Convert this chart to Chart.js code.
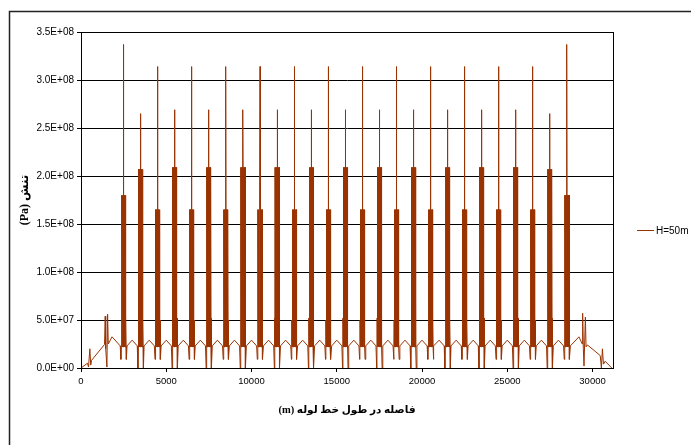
<!DOCTYPE html>
<html>
<head>
<meta charset="utf-8">
<script src="https://cdn.jsdelivr.net/npm/chart.js@4/dist/chart.umd.min.js"></script>
<style>
  html, body { margin: 0; padding: 0; background: #fff; }
  canvas { display: block; }
</style>
</head>
<body>
<canvas id="stressChart" width="691" height="445"></canvas>
<script>
// distances (m) of the 27 stress clusters along the pipe
const clusterPos = [2500, 3500, 4500, 5500, 6500, 7500, 8500, 9500, 10500, 11500, 12500, 13500, 14500,
  15500, 16500, 17500, 18500, 19500, 20500, 21500, 22500, 23500, 24500, 25500, 26500, 27500, 28500];
const clusterPeak = [3.37e8, 2.65e8, 3.14e8, 2.69e8, 3.14e8, 2.69e8, 3.14e8, 2.69e8, 3.14e8, 2.69e8, 3.14e8, 2.69e8, 3.14e8,
  2.69e8, 3.14e8, 2.69e8, 3.14e8, 2.69e8, 3.14e8, 2.69e8, 3.14e8, 2.69e8, 3.14e8, 2.69e8, 3.14e8, 2.65e8, 3.37e8];
const clusterBand = [1.80e8, 2.07e8, 1.65e8, 2.09e8, 1.65e8, 2.09e8, 1.65e8, 2.09e8, 1.65e8, 2.09e8, 1.65e8, 2.09e8, 1.65e8,
  2.09e8, 1.65e8, 2.09e8, 1.65e8, 2.09e8, 1.65e8, 2.09e8, 1.65e8, 2.09e8, 1.65e8, 2.09e8, 1.65e8, 2.07e8, 1.80e8];
const clusterDip = [0.9e7, 0, 0.9e7, 0, 0.9e7, 0, 0.9e7, 0, 0.9e7, 0, 0.9e7, 0, 0.9e7,
  0, 0.9e7, 0, 0.9e7, 0, 0.9e7, 0, 0.9e7, 0, 0.9e7, 0, 0.9e7, 0, 0.9e7];
const clusterSide = [5.5e7, 5.2e7, 5.0e7, 5.2e7, 5.0e7, 5.2e7, 5.0e7, 5.2e7, 5.0e7, 5.2e7, 5.0e7, 5.2e7, 5.0e7,
  5.2e7, 5.0e7, 5.2e7, 5.0e7, 5.2e7, 5.0e7, 5.2e7, 5.0e7, 5.2e7, 5.0e7, 5.2e7, 5.0e7, 5.2e7, 5.5e7];
// small bumps of the base line half way between clusters
const gapBump = [2.9e7, 2.9e7, 2.9e7, 2.9e7, 2.9e7, 2.9e7, 2.9e7, 2.9e7, 2.9e7, 2.9e7, 2.9e7, 2.9e7, 2.9e7,
  2.9e7, 2.9e7, 2.9e7, 2.9e7, 2.9e7, 2.9e7, 2.9e7, 2.9e7, 2.9e7, 2.9e7, 2.9e7, 2.9e7, 2.9e7];
const baseLevel = 2.3e7;
const bandLow = 2.2e7;

// shape of one cluster: offset from its centre (m) and which level it reaches
const shapeDx = [-200, -160, -145, -135, -125, -120, -108, -96, -84, -72, -60, -48, -36, -24, -12, -4, 0, 4, 12,
  24, 36, 48, 60, 72, 84, 96, 108, 120, 125, 135, 145, 160, 200];
const shapeKind = ["base", "dip", "base", "side", "low", "band", "low", "band", "low", "band", "low", "band", "low", "band", "low", "band", "peak", "band", "low",
  "band", "low", "band", "low", "band", "low", "band", "low", "band", "low", "side", "base", "dip", "base"];

// both ends of the line
const leftX = [0, 380, 440, 520, 570, 620, 1380, 1420, 1450, 1520, 1560, 1600, 1820, 2250];
const leftY = [0, 0.5e7, 0.1e7, 2.0e7, 0.3e7, 0.8e7, 2.45e7, 5.4e7, 2.0e7, 0.1e7, 5.6e7, 2.5e7, 3.25e7, 2.4e7];
const rightX = [28750, 29200, 29400, 29420, 29460, 29500, 29580, 29620, 29700, 30450, 30520, 30580, 30640, 30740, 31130];
const rightY = [2.4e7, 3.25e7, 2.5e7, 5.7e7, 2.0e7, 0.2e7, 5.3e7, 2.2e7, 2.4e7, 1.3e7, 0, 2.0e7, 0.4e7, 0.7e7, 0];

const xTicks = [0, 5000, 10000, 15000, 20000, 25000, 30000];
const seriesLabel = "H=50m";
const lineColor = "#993300";

function buildSeries() {
  const pts = [];
  leftX.forEach((x, i) => pts.push({ x, y: leftY[i] }));
  clusterPos.forEach((c, i) => {
    const lv = {
      base: baseLevel, dip: clusterDip[i], side: clusterSide[i],
      low: bandLow, band: clusterBand[i], peak: clusterPeak[i]
    };
    shapeDx.forEach((dx, j) => pts.push({ x: c + dx, y: lv[shapeKind[j]] }));
    if (i < gapBump.length) pts.push({ x: c + 500, y: gapBump[i] });
  });
  rightX.forEach((x, i) => pts.push({ x, y: rightY[i] }));
  return pts;
}

function sciLabel(v) {
  const [m, e] = Number(v).toExponential(1).split("e");
  const n = parseInt(e, 10);
  return m + "E" + (n < 0 ? "-" : "+") + String(Math.abs(n)).padStart(2, "0");
}

// outer frame, plot box and the legend
const decor = {
  id: "decor",
  afterDraw(chart) {
    const { ctx, chartArea: a } = chart;
    ctx.save();
    ctx.strokeStyle = "#000";
    ctx.lineWidth = 1;
    ctx.strokeRect(Math.round(a.left) + 0.5, Math.round(a.top) + 0.5,
      Math.round(a.right - a.left), Math.round(a.bottom - a.top));
    ctx.strokeStyle = "#222";
    ctx.lineWidth = 1.5;
    ctx.strokeRect(9.5, 11.5, 720, 460);
    ctx.strokeStyle = lineColor;
    ctx.lineWidth = 1;
    ctx.beginPath();
    ctx.moveTo(637, 230.5);
    ctx.lineTo(654, 230.5);
    ctx.stroke();
    ctx.fillStyle = "#000";
    ctx.font = "10px 'Liberation Sans', Arial, sans-serif";
    ctx.textBaseline = "middle";
    ctx.textAlign = "left";
    ctx.fillText(seriesLabel, 656, 231);
    ctx.restore();
  }
};

const xTickFont = { family: "'Liberation Sans', Arial, sans-serif", size: 9.5 };
const yTickFont = { family: "'Liberation Sans', Arial, sans-serif", size: 10 };
const yTitleFont = { family: "'Liberation Serif', 'DejaVu Sans', serif", size: 12, weight: "bold" };
const xTitleFont = { family: "'Liberation Serif', 'DejaVu Sans', serif", size: 10.5, weight: "bold" };

new Chart(document.getElementById("stressChart"), {
  type: "line",
  data: {
    datasets: [{
      label: seriesLabel,
      data: buildSeries(),
      borderColor: lineColor,
      borderWidth: 1,
      pointRadius: 0,
      tension: 0,
      fill: false
    }]
  },
  options: {
    responsive: false,
    animation: false,
    devicePixelRatio: 1,
    layout: { padding: { left: 14, top: 32, right: 78, bottom: 24 } },
    plugins: { legend: { display: false }, tooltip: { enabled: false } },
    scales: {
      x: {
        type: "linear",
        min: 0,
        max: 31200,
        afterFit(s) { s.height = 53; },
        afterBuildTicks(s) { s.ticks = xTicks.map(v => ({ value: v })); },
        ticks: { color: "#000", font: xTickFont, padding: 4, maxRotation: 0, autoSkip: false, callback: v => String(v) },
        grid: { drawOnChartArea: false, drawTicks: true, tickLength: 4, color: "#000" },
        border: { color: "#000", width: 1 },
        title: {
          display: true,
          text: "\u202Bفاصله در طول خط لوله (m)\u202C",
          color: "#000",
          font: xTitleFont,
          padding: { top: 4, bottom: 4 }
        }
      },
      y: {
        min: 0,
        max: 3.5e8,
        afterFit(s) { s.width = 81 - 14; },
        ticks: { stepSize: 5e7, color: "#000", font: yTickFont, padding: 3, callback: v => sciLabel(v) },
        grid: { color: "#000", tickLength: 4 },
        border: { color: "#000", width: 1 },
        title: {
          display: true,
          text: "\u202Bتنش (Pa)\u202C",
          color: "#000",
          font: yTitleFont,
          padding: { top: 4, bottom: 4 }
        }
      }
    }
  },
  plugins: [decor]
});
</script>
</body>
</html>
